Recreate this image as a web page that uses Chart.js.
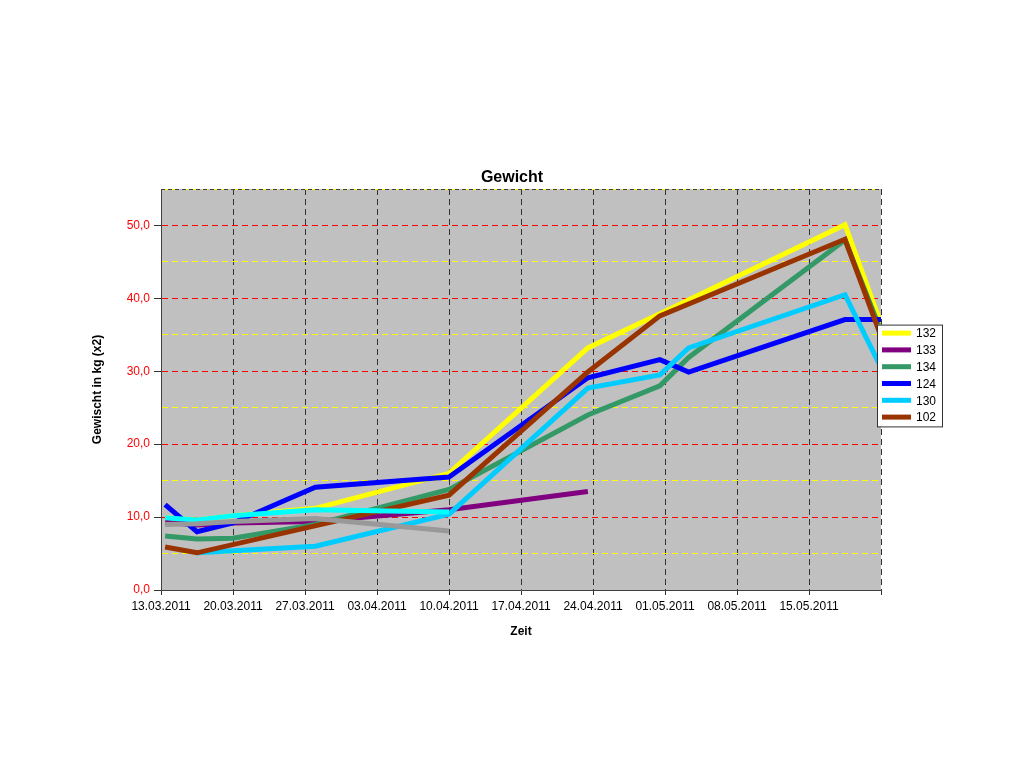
<!DOCTYPE html>
<html>
<head>
<meta charset="utf-8">
<script src="https://cdn.jsdelivr.net/npm/chart.js@4/dist/chart.umd.min.js"></script>
<style>
  html, body { margin: 0; padding: 0; background: #fff; }
  #wrap { width: 1024px; height: 768px; }
</style>
</head>
<body>
<div id="wrap"><canvas id="chart" width="1024" height="768"></canvas></div>
<script>
// weighing days, counted in days from 13.03.2011
const weighDays = [0.4, 3.5, 7, 15, 28, 41.5, 48.5, 51.3, 66.5, 70];

const seriesNames = ['132', '133', '134', '124', '130', '102', '', ''];
const seriesColors = ['#FFFF00', '#800080', '#339966', '#0000FF', '#00CCFF', '#993300', '#00FFFF', '#999999'];

const w132 = [9.9, 9.6, 10.2, 11.2, 16.0, 33.2, 37.9, null, 50.1, 36.5];
const w133 = [9.3, 8.9, 9.2, 9.4, 11.0, 13.5, null, null, null, null];
const w134 = [7.4, 7.0, 7.1, 9.0, 13.8, 24.0, 28.0, 31.9, 48.0, 35.5];
const w124 = [11.7, 8.0, 9.2, 14.1, 15.5, 29.1, 31.6, 29.9, 37.1, 37.1];
const w130 = [null, 5.1, null, 6.0, 10.4, 27.7, 29.5, 33.2, 40.5, 30.5];
const w102 = [5.9, 5.1, null, null, 13.0, 29.9, 37.6, null, 48.1, 34.8];
const wAqua = [9.9, 9.6, 10.2, 11.0, 10.7, null, null, null, null, null];
const wGrey = [9.0, 9.1, 9.4, 9.8, 8.1, null, null, null, null, null];

const allSeries = [w132, w133, w134, w124, w130, w102, wAqua, wGrey];

const chartTitle = 'Gewicht';
const yTicksMajor = 10;
const startDate = new Date(2011, 2, 13);
const fontFamily = '"Liberation Sans", Arial, sans-serif';

function fmtDate(days) {
  const d = new Date(startDate.getTime() + days * 86400000);
  const dd = String(d.getDate()).padStart(2, '0');
  const mm = String(d.getMonth() + 1).padStart(2, '0');
  return dd + '.' + mm + '.' + d.getFullYear();
}

const datasets = allSeries.map((vals, idx) => ({
  label: seriesNames[idx],
  data: vals.map((v, i) => ({ x: weighDays[i], y: v })),
  borderColor: seriesColors[idx],
  backgroundColor: seriesColors[idx],
  borderWidth: 5,
  pointRadius: 0,
  tension: 0,
  spanGaps: true,
  order: -idx   // later series on top, like the original
}));

// grey plot area + white page, title centred on the page
const plotBackground = {
  id: 'plotBackground',
  beforeDraw(chart) {
    const { ctx, chartArea } = chart;
    ctx.save();
    ctx.fillStyle = '#ffffff';
    ctx.fillRect(0, 0, chart.width, chart.height);
    ctx.fillStyle = '#C0C0C0';
    ctx.fillRect(chartArea.left, chartArea.top, chartArea.right - chartArea.left, chartArea.bottom - chartArea.top);
    ctx.restore();
  },
  afterDatasetsDraw(chart) {
    const { ctx, chartArea } = chart;
    ctx.save();
    ctx.strokeStyle = '#404040';
    ctx.lineWidth = 1;
    ctx.setLineDash([4, 3]);
    ctx.beginPath();
    ctx.moveTo(chartArea.left, chartArea.top + 0.5);
    ctx.lineTo(chartArea.right, chartArea.top + 0.5);
    ctx.stroke();
    ctx.setLineDash([]);
    ctx.fillStyle = '#000000';
    ctx.font = 'bold 16px ' + fontFamily;
    ctx.textAlign = 'center';
    ctx.textBaseline = 'middle';
    ctx.fillText(chartTitle, chart.width / 2, chartArea.top - 11);
    ctx.restore();
  }
};

// boxed legend sitting on the right edge of the plot
const boxLegend = {
  id: 'boxLegend',
  afterDraw(chart) {
    const { ctx, chartArea } = chart;
    const items = chart.data.datasets.filter(ds => ds.label !== '');
    const rowH = 16.8;
    const left = chartArea.right - 4;
    const boxW = 65;
    const boxH = items.length * rowH + 1;
    const top = (chartArea.top + chartArea.bottom) / 2 - boxH / 2 - 14;
    ctx.save();
    ctx.fillStyle = '#ffffff';
    ctx.fillRect(left, top, boxW, boxH);
    ctx.strokeStyle = '#333333';
    ctx.lineWidth = 1;
    ctx.strokeRect(left + 0.5, top + 0.5, boxW, boxH);
    ctx.font = '12px ' + fontFamily;
    ctx.textBaseline = 'middle';
    items.forEach((ds, i) => {
      const y = top + 8.5 + i * rowH;
      ctx.strokeStyle = ds.borderColor;
      ctx.lineWidth = 5;
      ctx.beginPath();
      ctx.moveTo(left + 5, y);
      ctx.lineTo(left + 34, y);
      ctx.stroke();
      ctx.fillStyle = '#000000';
      ctx.fillText(ds.label, left + 39, y + 1);
    });
    ctx.restore();
  }
};

const chartCtx = document.getElementById('chart');
new Chart(chartCtx, {
  type: 'line',
  data: { datasets },
  plugins: [plotBackground, boxLegend],
  options: {
    responsive: false,
    animation: false,
    layout: { padding: { top: 189, left: 80, right: 143, bottom: 118 } },
    font: { family: fontFamily },
    plugins: {
      legend: { display: false },
      tooltip: { enabled: false },
      title: { display: false }
    },
    scales: {
      x: {
        type: 'linear',
        min: 0,
        max: 70,
        afterFit(scale) { scale.height = 60; },
        ticks: {
          stepSize: 7,
          autoSkip: false,
          maxRotation: 0,
          padding: 4,
          color: '#000',
          font: { size: 12, family: fontFamily },
          callback: v => (v >= 70 ? '' : fmtDate(v))
        },
        grid: {
          color: c => (c.tick && c.tick.value === 0 ? 'rgba(0,0,0,0)' : '#333333'),
          tickColor: '#333333',
          tickLength: 5,
          tickBorderDash: []
        },
        border: { color: '#404040', width: 1, dash: [6, 4] },
        title: {
          display: true,
          text: 'Zeit',
          color: '#000',
          font: { size: 12, weight: 'bold', family: fontFamily },
          padding: { top: 0, bottom: 11 }
        }
      },
      y: {
        min: 0,
        max: 55,
        afterFit(scale) { scale.width = 81; },
        ticks: {
          stepSize: 5,
          padding: 4,
          color: '#FF0000',
          font: { size: 12, family: fontFamily },
          callback: v => (v % yTicksMajor === 0 ? v.toFixed(1).replace('.', ',') : '')
        },
        grid: {
          color: c => {
            const v = c.tick ? c.tick.value : 0;
            if (v === 0) return 'rgba(0,0,0,0)';
            return v % yTicksMajor === 0 ? '#FF0000' : '#FFFF00';
          },
          tickColor: c => (c.tick && c.tick.value % yTicksMajor === 0 ? '#333333' : 'rgba(0,0,0,0)'),
          tickLength: 7,
          tickBorderDash: []
        },
        border: { color: '#404040', width: 1, dash: [6, 4] },
        title: {
          display: true,
          text: 'Gewischt in kg (x2)',
          color: '#000',
          font: { size: 12, weight: 'bold', family: fontFamily },
          padding: { top: 10, bottom: 0 }
        }
      }
    }
  }
});
</script>
</body>
</html>
